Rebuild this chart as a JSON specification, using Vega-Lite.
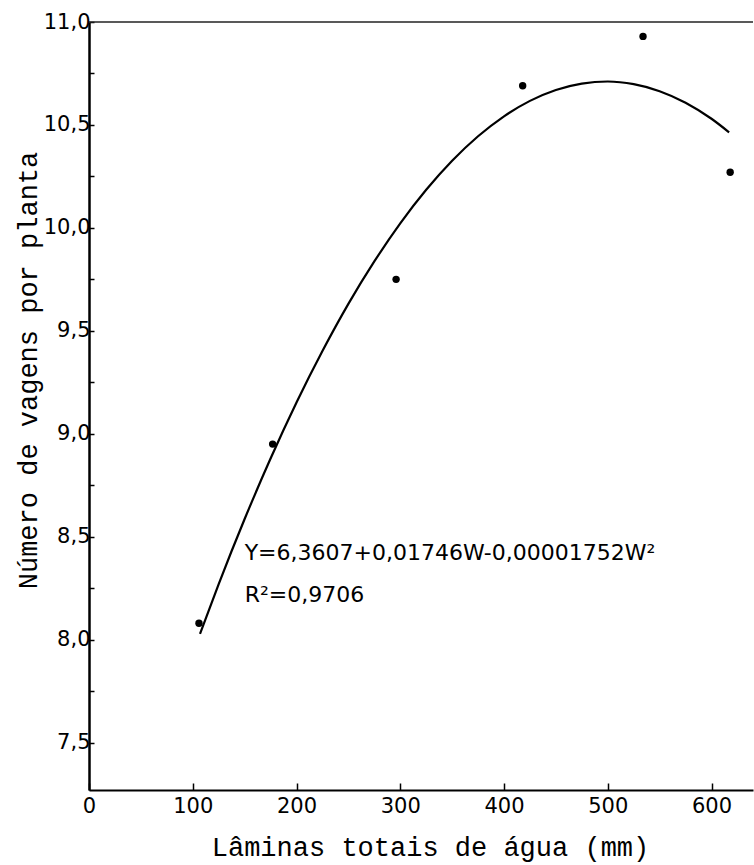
{
  "$schema": "https://vega.github.io/schema/vega-lite/v6.json",
  "width": 664,
  "height": 768,
  "autosize": "none",
  "padding": {"left": 89, "top": 22, "right": 1, "bottom": 75},
  "background": "white",
  "config": {"view": {"stroke": null}},
  "data": {"values": [{}]},
  "datasets": {
    "points": [
      {"W": 106, "NV": 8.08},
      {"W": 177, "NV": 8.95},
      {"W": 296, "NV": 9.75},
      {"W": 418, "NV": 10.69},
      {"W": 534, "NV": 10.93},
      {"W": 618, "NV": 10.27}
    ],
    "curve": [
      {"W": 107, "NV": 8.028},
      {"W": 125, "NV": 8.270},
      {"W": 150, "NV": 8.586},
      {"W": 175, "NV": 8.880},
      {"W": 200, "NV": 9.152},
      {"W": 225, "NV": 9.402},
      {"W": 250, "NV": 9.631},
      {"W": 275, "NV": 9.837},
      {"W": 300, "NV": 10.022},
      {"W": 325, "NV": 10.185},
      {"W": 350, "NV": 10.326},
      {"W": 375, "NV": 10.445},
      {"W": 400, "NV": 10.542},
      {"W": 425, "NV": 10.617},
      {"W": 450, "NV": 10.670},
      {"W": 475, "NV": 10.701},
      {"W": 500, "NV": 10.711},
      {"W": 525, "NV": 10.698},
      {"W": 550, "NV": 10.664},
      {"W": 575, "NV": 10.608},
      {"W": 600, "NV": 10.530},
      {"W": 617, "NV": 10.464}
    ]
  },
  "layer": [
    {
      "data": {"name": "curve"},
      "mark": {"type": "line", "color": "black", "strokeWidth": 2.2, "interpolate": "monotone"},
      "encoding": {
        "x": {
          "field": "W",
          "type": "quantitative",
          "scale": {"domain": [0, 640], "nice": false, "zero": false},
          "axis": {
            "values": [0, 100, 200, 300, 400, 500, 600],
            "title": "Lâminas totais de água (mm)",
            "titleFont": "Liberation Mono",
            "titleFontSize": 27,
            "titleFontWeight": "normal",
            "titleColor": "black",
            "titleX": 341,
            "titleY": 57,
            "titleAlign": "center",
            "titleBaseline": "middle",
            "labelFont": "DejaVu Sans",
            "labelFontSize": 21,
            "labelColor": "black",
            "labelPadding": 12,
            "labelFlush": false,
            "labelOverlap": false,
            "tickSize": -7,
            "tickColor": "black",
            "tickWidth": 1.5,
            "domainColor": "black",
            "domainWidth": 2,
            "grid": false
          }
        },
        "y": {
          "field": "NV",
          "type": "quantitative",
          "scale": {"domain": [7.27, 11], "nice": false, "zero": false},
          "axis": {
            "values": [7.5, 7.75, 8, 8.25, 8.5, 8.75, 9, 9.25, 9.5, 9.75, 10, 10.25, 10.5, 10.75, 11],
            "labelExpr": "datum.value * 2 == floor(datum.value * 2) ? replace(format(datum.value, '.1f'), '.', ',') : ''",
            "title": "Número de vagens por planta",
            "titleFont": "Liberation Mono",
            "titleFontSize": 27,
            "titleFontWeight": "normal",
            "titleColor": "black",
            "titleX": -61,
            "titleY": 348,
            "titleAngle": -90,
            "titleAlign": "center",
            "titleBaseline": "middle",
            "labelFont": "DejaVu Sans",
            "labelFontSize": 21,
            "labelColor": "black",
            "labelPadding": 4,
            "labelFlush": false,
            "labelOverlap": false,
            "tickSize": -5,
            "tickColor": "black",
            "tickWidth": 1.5,
            "domainColor": "black",
            "domainWidth": 2.5,
            "grid": false
          }
        }
      }
    },
    {
      "data": {"name": "points"},
      "mark": {"type": "circle", "color": "black", "size": 55, "opacity": 1},
      "encoding": {
        "x": {"field": "W", "type": "quantitative"},
        "y": {"field": "NV", "type": "quantitative"}
      }
    },
    {
      "mark": {"type": "rule", "color": "#222222", "strokeWidth": 1.5},
      "encoding": {"y": {"datum": 11, "type": "quantitative"}}
    },
    {
      "mark": {"type": "text", "align": "left", "baseline": "middle", "font": "DejaVu Sans", "fontSize": 22, "color": "black"},
      "encoding": {
        "x": {"datum": 150, "type": "quantitative"},
        "y": {"datum": 8.42, "type": "quantitative"},
        "text": {"value": "Y=6,3607+0,01746W-0,00001752W²"}
      }
    },
    {
      "mark": {"type": "text", "align": "left", "baseline": "middle", "font": "DejaVu Sans", "fontSize": 22, "color": "black"},
      "encoding": {
        "x": {"datum": 150, "type": "quantitative"},
        "y": {"datum": 8.218, "type": "quantitative"},
        "text": {"value": "R²=0,9706"}
      }
    }
  ]
}
